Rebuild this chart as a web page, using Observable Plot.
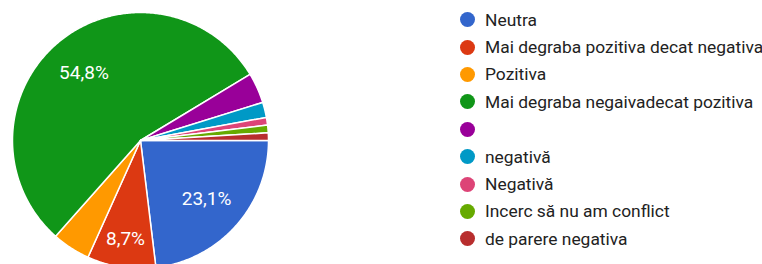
<!DOCTYPE html>
<html>
<head>
<meta charset="utf-8">
<script src="https://cdn.jsdelivr.net/npm/d3@7"></script>
<script src="https://cdn.jsdelivr.net/npm/@observablehq/plot@0.6"></script>
<style>
  html, body { margin: 0; padding: 0; background: #fff; }
  #wrap { position: relative; width: 762px; height: 264px; overflow: hidden; }
  #legend { position: absolute; left: 460px; top: 6px; font-family: Roboto, "Liberation Sans", Arial, sans-serif; font-size: 17.4px; color: #222; }
  .row { height: 27.4px; display: flex; align-items: center; white-space: nowrap; }
  .sw { width: 15px; height: 15px; border-radius: 50%; margin-right: 10px; flex: none; }
</style>
</head>
<body>
<div id="wrap"><div id="chart"></div><div id="legend"></div></div>
<script>
const categories = ["Neutra", "Mai degraba pozitiva decat negativa", "Pozitiva", "Mai degraba negaivadecat pozitiva", "", "negativă", "Negativă", "Incerc să nu am conflict", "de parere negativa"];
const counts = [24, 9, 5, 57, 4, 2, 1, 1, 1];
const colors = ["#3366cc", "#dc3912", "#ff9900", "#109618", "#990099", "#0099c6", "#dd4477", "#66aa00", "#b82e2e"];

const total = d3.sum(counts);
const keys = categories.map((c, i) => i);
// slices: start at 3 o'clock, clockwise
let acc = 0;
const slices = counts.map((v, i) => {
  const a0 = acc / total * 2 * Math.PI;
  acc += v;
  const a1 = acc / total * 2 * Math.PI;
  return {i, v, a0, a1, pct: v / total * 100};
});
const pts = [];
for (const s of slices) {
  pts.push({k: s.i, x: 0, y: 0});
  const n = Math.max(2, Math.ceil((s.a1 - s.a0) / 0.01));
  for (let j = 0; j <= n; j++) {
    const a = s.a0 + (s.a1 - s.a0) * j / n;
    pts.push({k: s.i, x: Math.cos(a), y: -Math.sin(a)});
  }
}
const labels = slices.filter(s => s.pct > 5).map(s => {
  const m = (s.a0 + s.a1) / 2;
  const r = s.pct < 10 ? 0.78 : 0.69;
  return {x: r * Math.cos(m), y: -r * Math.sin(m), t: s.pct.toFixed(1).replace(".", ",") + "%"};
});

const chart = Plot.plot({
  width: 762,
  height: 264,
  margin: 0,
  x: {domain: [-1, 1], range: [12, 268], axis: null},
  y: {domain: [-1, 1], range: [268, 12], axis: null},
  color: {domain: keys, range: colors},
  marks: [
    Plot.line(pts, {x: "x", y: "y", z: "k", fill: "k", stroke: "white", strokeWidth: 1.5, curve: "linear-closed", strokeLinejoin: "round"}),
    Plot.text(labels, {x: "x", y: "y", text: "t", fill: "white", fontSize: 19, fontFamily: "Roboto, Arial, sans-serif"})
  ],
  style: {background: "white", overflow: "hidden"}
});
document.getElementById("chart").appendChild(chart);

const lg = d3.select("#legend");
categories.forEach((c, i) => {
  const row = lg.append("div").attr("class", "row");
  row.append("div").attr("class", "sw").style("background", colors[i]);
  row.append("span").text(c);
});
</script>
</body>
</html>
